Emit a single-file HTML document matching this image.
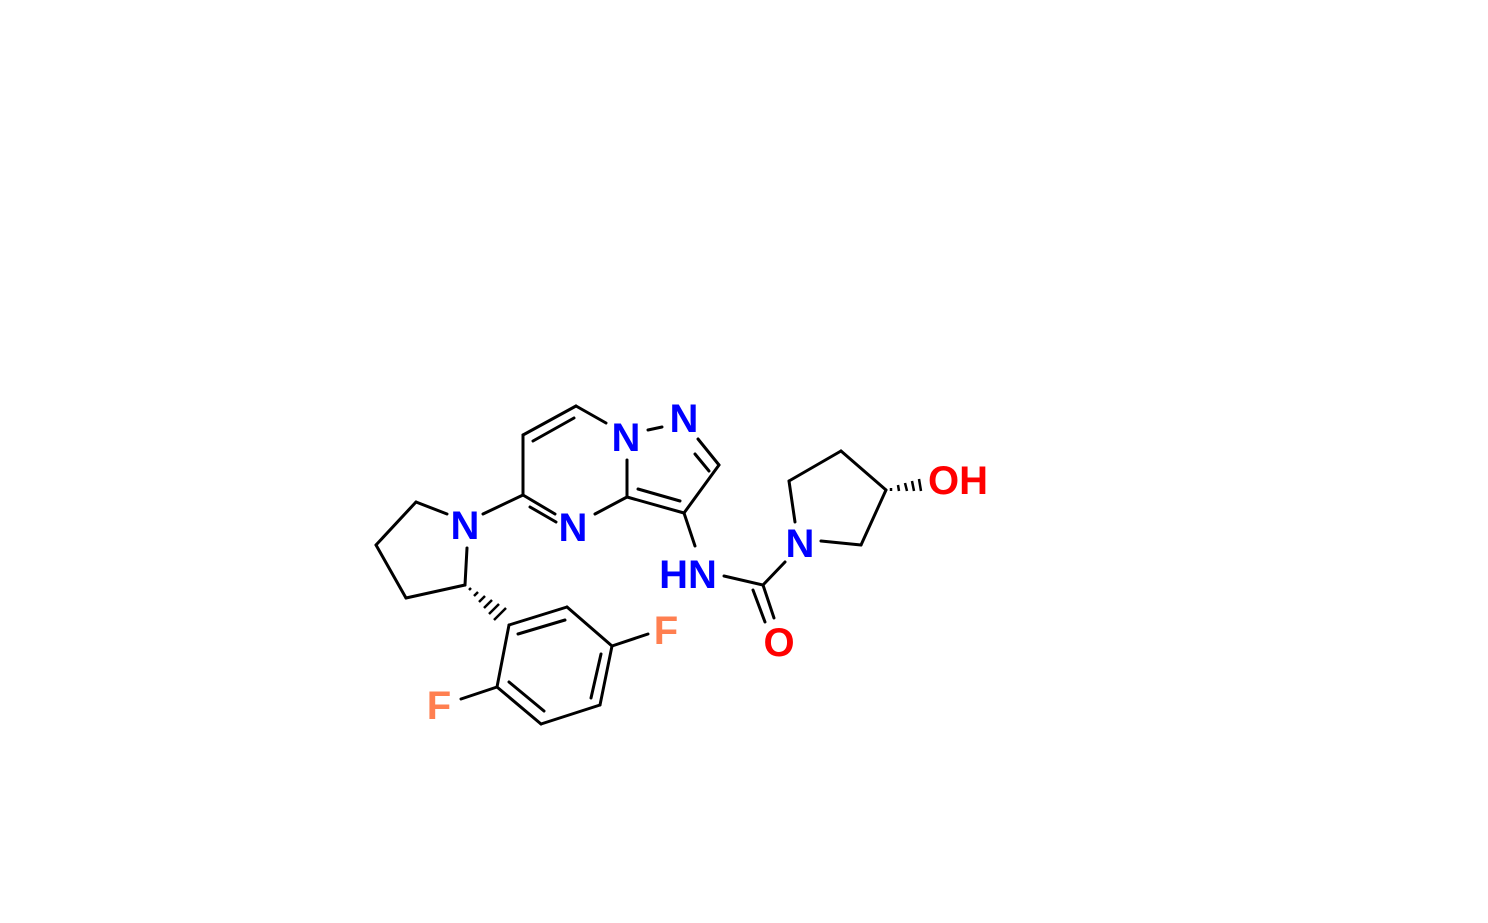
<!DOCTYPE html>
<html><head><style>html,body{margin:0;background:#fff}svg{display:block}
.t{font-family:"Liberation Sans",Arial,sans-serif;font-weight:bold;font-size:40px;text-anchor:middle}</style></head><body>
<svg width="1488" height="923" viewBox="0 0 1488 923" xmlns="http://www.w3.org/2000/svg">
<g stroke="#000" stroke-width="3" fill="none" stroke-linecap="round">
<line x1="576" y1="406" x2="523" y2="435"/>
<line x1="574" y1="418" x2="533" y2="441"/>
<line x1="523" y1="435" x2="523" y2="495"/>
<line x1="523" y1="495" x2="555" y2="514"/>
<line x1="530" y1="507" x2="556" y2="522"/>
<line x1="595" y1="514" x2="627" y2="497"/>
<line x1="627" y1="497" x2="627" y2="460"/>
<line x1="576" y1="406" x2="606" y2="423"/>
<line x1="648" y1="430" x2="662" y2="427"/>
<line x1="698" y1="439" x2="719" y2="465"/>
<line x1="695" y1="454" x2="709" y2="471"/>
<line x1="719" y1="465" x2="684" y2="513"/>
<line x1="684" y1="513" x2="627" y2="497"/>
<line x1="680" y1="501" x2="638" y2="489"/>
<line x1="684" y1="513" x2="695" y2="546"/>
<line x1="724" y1="576" x2="763" y2="585"/>
<line x1="763" y1="585" x2="774" y2="618"/>
<line x1="753" y1="590" x2="765" y2="622"/>
<line x1="763" y1="585" x2="785" y2="562"/>
<line x1="795" y1="522" x2="789" y2="481"/>
<line x1="789" y1="481" x2="841" y2="451"/>
<line x1="841" y1="451" x2="886" y2="490"/>
<line x1="886" y1="490" x2="861" y2="545"/>
<line x1="861" y1="545" x2="821" y2="541"/>
<line x1="483" y1="514" x2="523" y2="495"/>
<line x1="447" y1="514" x2="416" y2="502"/>
<line x1="416" y1="502" x2="376" y2="545"/>
<line x1="376" y1="545" x2="406" y2="598"/>
<line x1="406" y1="598" x2="465" y2="585"/>
<line x1="465" y1="585" x2="467" y2="548"/>
<line x1="509" y1="625" x2="567" y2="607"/>
<line x1="518" y1="634" x2="565" y2="620"/>
<line x1="567" y1="607" x2="612" y2="646"/>
<line x1="612" y1="646" x2="600" y2="705"/>
<line x1="601" y1="654" x2="591" y2="698"/>
<line x1="600" y1="705" x2="541" y2="724"/>
<line x1="541" y1="724" x2="497" y2="687"/>
<line x1="544" y1="711" x2="509" y2="682"/>
<line x1="497" y1="687" x2="509" y2="625"/>
<line x1="612" y1="646" x2="648" y2="634"/>
<line x1="497" y1="687" x2="461" y2="699"/>
</g>
<g stroke="#000" stroke-width="2.5">
<line x1="469" y1="590" x2="471" y2="588"/>
<line x1="474" y1="596" x2="478" y2="592"/>
<line x1="479" y1="602" x2="485" y2="596"/>
<line x1="484" y1="608" x2="492" y2="600"/>
<line x1="489" y1="614" x2="499" y2="604"/>
<line x1="494" y1="620" x2="506" y2="608"/>
<line x1="891" y1="488" x2="891" y2="491"/>
<line x1="898" y1="485" x2="899" y2="491"/>
<line x1="905" y1="483" x2="907" y2="491"/>
<line x1="912" y1="481" x2="914" y2="491"/>
<line x1="919" y1="479" x2="921" y2="491"/>
</g>
<text class="t" x="626" y="451" fill="#0000ff">N</text>
<text class="t" x="684" y="432" fill="#0000ff">N</text>
<text class="t" x="573" y="541" fill="#0000ff">N</text>
<text class="t" x="465" y="539" fill="#0000ff">N</text>
<text class="t" x="688" y="588" fill="#0000ff">HN</text>
<text class="t" x="800" y="557" fill="#0000ff">N</text>
<text class="t" x="779" y="656" fill="#ff0000">O</text>
<text class="t" x="958" y="494" fill="#ff0000">OH</text>
<text class="t" x="666" y="644" fill="#ff7f50">F</text>
<text class="t" x="439" y="719" fill="#ff7f50">F</text>
</svg>
</body></html>
